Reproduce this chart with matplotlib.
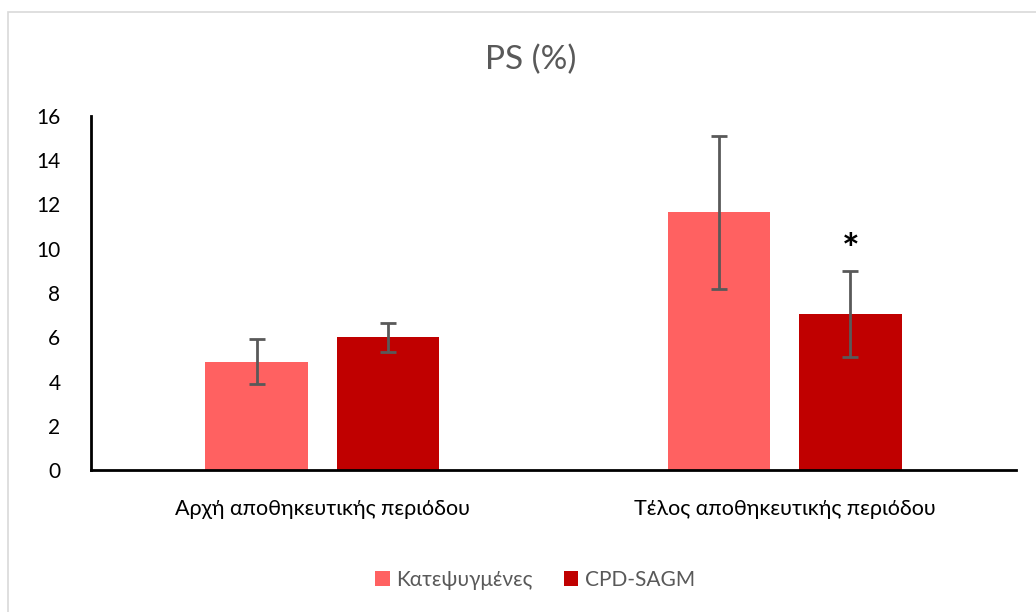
import numpy as np
import matplotlib.pyplot as plt
from matplotlib.patches import Rectangle

plt.rcParams['font.family'] = ['Lato', 'DejaVu Sans']

categories = ['Αρχή αποθηκευτικής περιόδου', 'Τέλος αποθηκευτικής περιόδου']
series_names = ['Κατεψυγμένες', 'CPD-SAGM']
frozen = [4.9, 11.65]
frozen_err = [1.03, 3.45]
cpd = [6.0, 7.05]
cpd_err = [0.65, 1.95]
colors = ['#FF6161', '#C00000']

fig = plt.figure(figsize=(10.36, 6.12), dpi=100)
fig.patches.append(Rectangle((8 / 1036, -0.1), 1.2, (612 - 12) / 612 + 0.1,
                             transform=fig.transFigure, fill=False,
                             edgecolor='#D9D9D9', linewidth=1.2))

ax = fig.add_axes([91 / 1036, (612 - 470) / 612, (1016 - 91) / 1036, (470 - 116) / 612])

x = np.arange(len(categories))
w = 0.222
off = 0.142
err_kw = dict(ecolor='#595959', elinewidth=2, capsize=6, capthick=2)
ax.bar(x - off, frozen, w, yerr=frozen_err, color=colors[0], label=series_names[0],
       error_kw=err_kw, zorder=2)
ax.bar(x + off, cpd, w, yerr=cpd_err, color=colors[1], label=series_names[1],
       error_kw=err_kw, zorder=2)

# significance marker above the second CPD-SAGM bar
ax.text(x[1] + off, cpd[1] + cpd_err[1] + 0.85, '*', ha='center', va='center',
        fontsize=30, fontweight='bold', color='black')

ax.set_xlim(-0.5, 1.5)
ax.set_ylim(0, 16)
ax.set_yticks(range(0, 17, 2))
ax.set_xticks(x)
ax.set_xticklabels(categories, fontsize=15.5)
ax.tick_params(axis='y', labelsize=15, length=0, pad=22)
ax.tick_params(axis='x', length=0, pad=21)
for s in ['top', 'right']:
    ax.spines[s].set_visible(False)
ax.spines['left'].set_linewidth(2)
ax.spines['bottom'].set_linewidth(2)

fig.text(531 / 1036, 1 - 60 / 612, 'PS (%)', ha='center', va='center',
         fontsize=24, color='#595959')

fig.legend(loc='center', bbox_to_anchor=(535 / 1036, 1 - 580 / 612), ncol=2,
           frameon=False, fontsize=15, handlelength=0.7, handleheight=0.7,
           columnspacing=1.5, handletextpad=0.3, labelcolor='#595959')

fig.savefig('out.png', dpi=100)
